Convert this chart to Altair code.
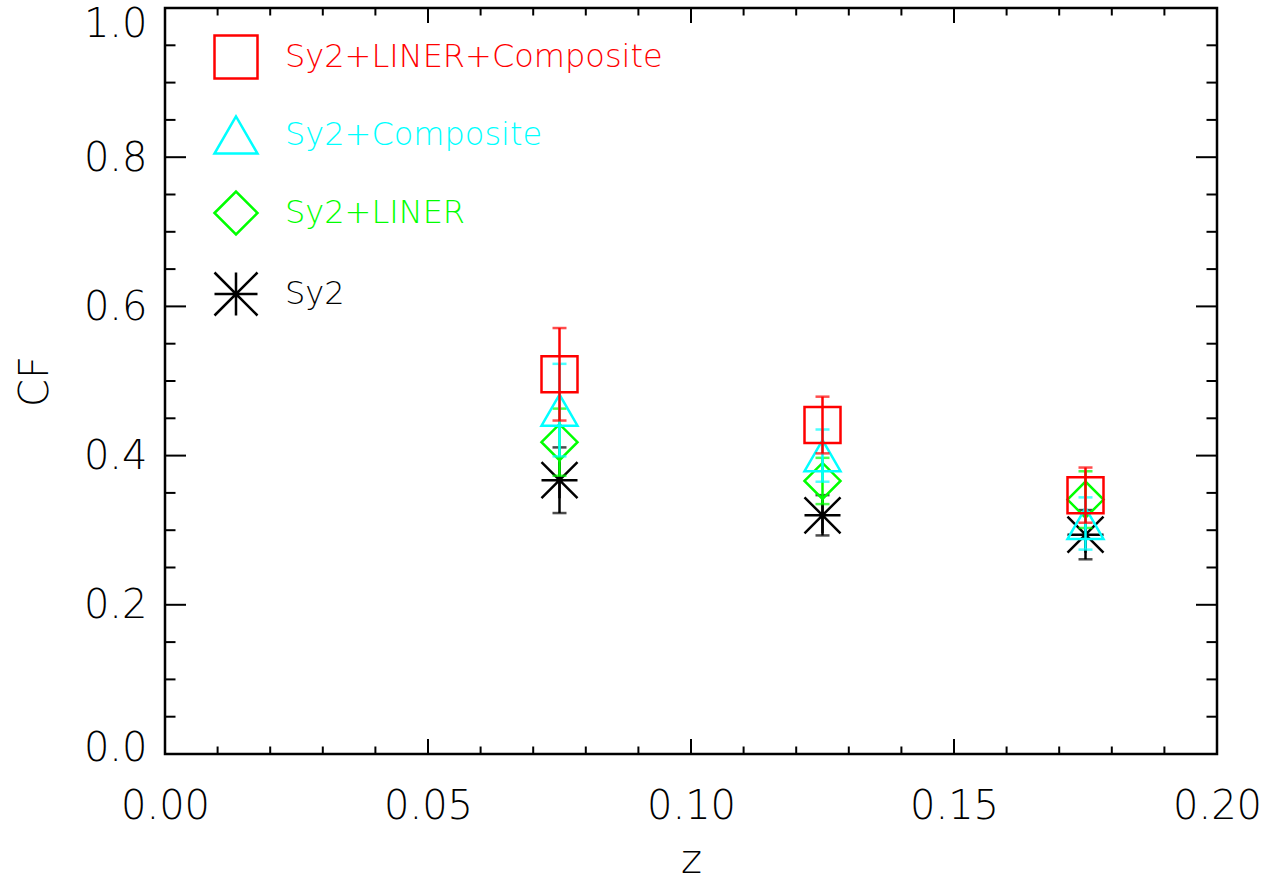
import altair as alt
import pandas as pd

FONT = "DejaVu Sans"
FW = 300

# ---- data ----
z = [0.075, 0.125, 0.175]
series_names = ["Sy2+LINER+Composite", "Sy2+Composite", "Sy2+LINER", "Sy2"]
series_colors = ["#ff0000", "#00ffff", "#00ff00", "#000000"]
series_shapes = [
    "square",
    "triangle-up",
    "diamond",
    "M0,-1L0,1M-1,0L1,0M-1,-1L1,1M-1,1L1,-1",
]
cf_all = [0.509, 0.441, 0.347]
err_all = [0.062, 0.038, 0.037]
cf_comp = [0.461, 0.400, 0.309]
err_comp = [0.062, 0.035, 0.035]
cf_liner = [0.418, 0.366, 0.341]
err_liner = [0.045, 0.031, 0.038]
cf_sy2 = [0.367, 0.320, 0.294]
err_sy2 = [0.044, 0.027, 0.033]

x_major = [0.0, 0.05, 0.10, 0.15, 0.20]
x_minor = [0.01, 0.02, 0.03, 0.04, 0.06, 0.07, 0.08, 0.09,
           0.11, 0.12, 0.13, 0.14, 0.16, 0.17, 0.18, 0.19]
y_major = [0.0, 0.2, 0.4, 0.6, 0.8, 1.0]
y_minor = [0.05, 0.1, 0.15, 0.25, 0.3, 0.35, 0.45, 0.5, 0.55,
           0.65, 0.7, 0.75, 0.85, 0.9, 0.95]

W, H = 1052, 746
LW = 2.5

cf_map = {
    "Sy2+LINER+Composite": (cf_all, err_all),
    "Sy2+Composite": (cf_comp, err_comp),
    "Sy2+LINER": (cf_liner, err_liner),
    "Sy2": (cf_sy2, err_sy2),
}
rows = []
for name in series_names:
    cf, err = cf_map[name]
    for xi, c, e in zip(z, cf, err):
        rows.append({"series": name, "z": xi, "cf": c, "lo": c - e, "hi": c + e})
df = pd.DataFrame(rows)

xscale = alt.Scale(domain=[0, 0.2], nice=False, zero=False)
yscale = alt.Scale(domain=[0, 1], nice=False, zero=False)

label_expr = " : ".join(
    f"datum.label == '{n}' ? '{c}'" for n, c in zip(series_names, series_colors)
) + " : 'black'"

legend = alt.Legend(
    orient="none", legendX=48, legendY=26, padding=0, rowPadding=27,
    symbolSize=1849, symbolStrokeWidth=LW, labelFontSize=32, labelFont=FONT,
    labelFontWeight=FW, labelOffset=26, labelLimit=0, title=None,
    labelColor=alt.ExprRef(label_expr),
)
color = alt.Color("series:N", scale=alt.Scale(domain=series_names, range=series_colors), legend=legend)
shape = alt.Shape("series:N", scale=alt.Scale(domain=series_names, range=series_shapes), legend=legend)

x_axis = alt.Axis(values=x_major, format=".2f", ticks=False, tickSize=0, domain=False, grid=False,
                  labelFontSize=40, labelFont=FONT, labelFontWeight=FW, labelPadding=32,
                  labelColor="black", labelFlush=False, title="z", titleFontSize=40, titleFont=FONT,
                  titleFontWeight=FW, titleY=118, titleBaseline="alphabetic", titleColor="black")
y_axis = alt.Axis(values=y_major, format=".1f", ticks=False, tickSize=0, domain=False, grid=False,
                  labelFontSize=40, labelFont=FONT, labelFontWeight=FW, labelPadding=18,
                  labelColor="black", labelFlush=False,
                  labelOffset=alt.ExprRef("datum.value == 1 ? 16 : datum.value == 0 ? -6 : 1"),
                  title="CF", titleFontSize=40, titleFont=FONT,
                  titleFontWeight=FW, titleX=-118, titleBaseline="alphabetic", titleColor="black")

X = lambda f: alt.X(f, scale=xscale, axis=x_axis, title="z")
Y = lambda f: alt.Y(f, scale=yscale, axis=y_axis, title="CF")

# tick marks drawn inside the frame
def xticks(vals, length):
    d = pd.DataFrame({"v": vals})
    b = alt.Chart(d).mark_rule(color="black", strokeWidth=2)
    bottom = b.encode(x=X("v:Q"), y=alt.value(H), y2=alt.value(H - length))
    top = b.encode(x=X("v:Q"), y=alt.value(0), y2=alt.value(length))
    return [bottom, top]

def yticks(vals, length):
    d = pd.DataFrame({"v": vals})
    b = alt.Chart(d).mark_rule(color="black", strokeWidth=2)
    left = b.encode(y=Y("v:Q"), x=alt.value(0), x2=alt.value(length))
    right = b.encode(y=Y("v:Q"), x=alt.value(W), x2=alt.value(W - length))
    return [left, right]

tick_layers = xticks(x_major, 15) + xticks(x_minor, 7.5) + yticks(y_major, 21) + yticks(y_minor, 10.5)

data_layers = []
draw_order = ["Sy2", "Sy2+LINER", "Sy2+Composite", "Sy2+LINER+Composite"]
for name in draw_order:
    col = series_colors[series_names.index(name)]
    base = alt.Chart(df).transform_filter(alt.datum.series == name)
    rule = base.mark_rule(color=col, strokeWidth=LW).encode(x=X("z:Q"), y=Y("lo:Q"), y2="hi:Q")
    cap_lo = base.mark_tick(color=col, orient="horizontal", size=14, thickness=LW).encode(
        x=X("z:Q"), y=Y("lo:Q"))
    cap_hi = base.mark_tick(color=col, orient="horizontal", size=14, thickness=LW).encode(
        x=X("z:Q"), y=Y("hi:Q"))
    pts = base.mark_point(filled=False, size=1296, strokeWidth=LW, opacity=1).encode(
        x=X("z:Q"), y=Y("cf:Q"), color=color, shape=shape)
    data_layers += [rule, cap_lo, cap_hi, pts]

chart = alt.layer(*tick_layers, *data_layers).properties(
    width=W, height=H,
    autosize=alt.AutoSizeParams(type="none"),
    padding={"left": 165, "top": 8, "right": 64, "bottom": 128},
).configure(background="white").configure_view(stroke="black", strokeWidth=2.5)

chart.save("out.html", embed_options={"renderer": "svg", "actions": False})
